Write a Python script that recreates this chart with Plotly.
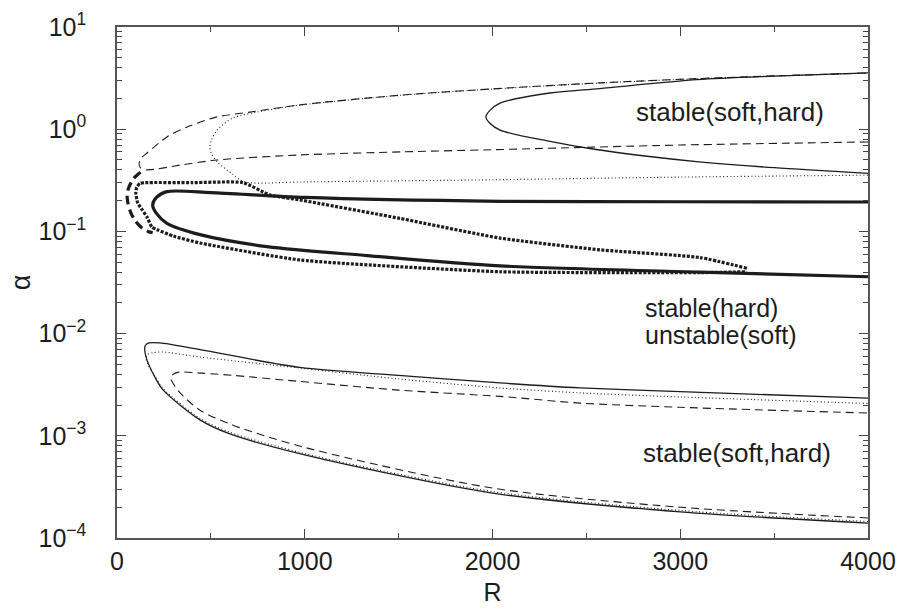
import math
import plotly.graph_objects as go

# ---------------- data ----------------
# upper group, thin curves
dash_thin_R = [4000, 3000, 2000, 1517, 975, 533, 352, 160, 124, 118, 128, 160, 266, 373, 533, 708, 975, 1517, 2000, 2572, 3175, 4000]
dash_thin_a = [0.75, 0.70, 0.63, 0.60, 0.56, 0.50, 0.45, 0.40, 0.42, 0.46, 0.52, 0.585, 0.84, 1.05, 1.32, 1.47, 1.73, 2.16, 2.48, 2.84, 3.17, 3.55]

dot_thin_R = [4000, 3000, 2000, 1000, 700, 655, 618, 533, 503, 495, 503, 533, 618, 746, 975, 1517, 2000, 2572, 3175, 4000]
dot_thin_a = [0.355, 0.34, 0.32, 0.305, 0.30, 0.32, 0.36, 0.48, 0.58, 0.67, 0.78, 0.98, 1.29, 1.47, 1.72, 2.15, 2.47, 2.83, 3.16, 3.54]

solid_thin_R = [4000, 3500, 3100, 2800, 2535, 2306, 2040, 1985, 1965, 1985, 2040, 2306, 2572, 3090, 3500, 4000]
solid_thin_a = [0.37, 0.42, 0.48, 0.55, 0.64, 0.76, 0.98, 1.15, 1.32, 1.52, 1.80, 2.26, 2.50, 3.05, 3.30, 3.55]

# middle group, thick curves
solid_thick_R = [4000, 3105, 2040, 1332, 799, 442, 266, 210, 190, 210, 266, 500, 1000, 2040, 3000, 4000]
solid_thick_a = [0.036, 0.040, 0.046, 0.058, 0.071, 0.093, 0.12, 0.15, 0.18, 0.215, 0.245, 0.24, 0.215, 0.197, 0.195, 0.194]

dot_thick_R = [3355, 3105, 2572, 2040, 1507, 975, 815, 671, 400, 150, 122, 105, 100, 110, 137, 160, 186, 213, 300, 442, 975, 2040, 3105, 3355]
dot_thick_a = [0.0436, 0.0555, 0.066, 0.086, 0.134, 0.203, 0.227, 0.30, 0.30, 0.30, 0.295, 0.27, 0.24, 0.19, 0.16, 0.138, 0.11, 0.104, 0.09, 0.077, 0.0525, 0.0403, 0.0395, 0.0403]

dash_thick_R = [125, 95, 75, 60, 54, 58, 75, 100, 135, 165, 190]
dash_thick_a = [0.38, 0.34, 0.30, 0.26, 0.225, 0.19, 0.15, 0.125, 0.107, 0.10, 0.097]

# lower group, thin curves
solid_low_R = [4000, 3000, 2000, 1000, 591, 442, 245, 200, 160, 148, 150, 170, 229, 442, 975, 1500, 2040, 2466, 3000, 4000]
solid_low_a = [0.00014, 0.00018, 0.000275, 0.00065, 0.00106, 0.00143, 0.00281, 0.0038, 0.0055, 0.0068, 0.0076, 0.0081, 0.0081, 0.00696, 0.00467, 0.0039, 0.00329, 0.00294, 0.0027, 0.00234]

dot_low_R = [4000, 3000, 2000, 1000, 591, 442, 245, 200, 165, 155, 160, 192, 245, 442, 975, 1500, 2040, 2466, 3000, 4000]
dot_low_a = [0.000145, 0.000186, 0.000285, 0.00067, 0.0011, 0.00148, 0.0029, 0.0039, 0.0050, 0.0057, 0.0062, 0.0065, 0.0066, 0.0059, 0.0046, 0.0036, 0.00294, 0.00263, 0.0024, 0.00207]

dash_low_R = [4000, 3000, 2000, 1000, 618, 442, 330, 293, 285, 300, 330, 450, 618, 975, 1500, 2040, 2466, 3000, 4000]
dash_low_a = [0.000157, 0.0002, 0.000308, 0.00077, 0.00127, 0.00178, 0.0027, 0.0034, 0.0037, 0.0040, 0.0042, 0.0041, 0.0039, 0.0034, 0.0028, 0.00243, 0.00209, 0.0019, 0.00167]

# labels
x_ticks = [0, 1000, 2000, 3000, 4000]
y_ticks = [1e-4, 1e-3, 1e-2, 1e-1, 1e0, 1e1]
y_ticktext = ["10<sup>−4</sup>", "10<sup>−3</sup>", "10<sup>−2</sup>", "10<sup>−1</sup>", "10<sup>0</sup>", "10<sup>1</sup>"]
region_labels = ["stable(soft,hard)", "stable(hard)", "unstable(soft)", "stable(soft,hard)"]
region_R = [3265, 2800, 2800, 3300]
region_a = [1.47, 0.0178, 0.0097, 0.00068]
region_anchor = ["center", "left", "left", "center"]
region_size = [26, 25, 25, 26]

# ---------------- figure ----------------
INK = "#1c1c1c"
FONT = "Liberation Sans, Arial, Helvetica, sans-serif"

curves = [
    (dash_thin_R, dash_thin_a, 1.1, "8px,5px", 0.8),
    (dot_thin_R, dot_thin_a, 1.1, "1px,2.5px", 0.8),
    (solid_thin_R, solid_thin_a, 1.3, "solid", 0.8),
    (solid_thick_R, solid_thick_a, 3.2, "solid", 0.8),
    (dot_thick_R, dot_thick_a, 3.2, "3px,1.5px", 0.5),
    (dash_thick_R, dash_thick_a, 3.2, "9px,5px", 0.8),
    (solid_low_R, solid_low_a, 1.3, "solid", 0.8),
    (dot_low_R, dot_low_a, 1.1, "1px,2.5px", 0.8),
    (dash_low_R, dash_low_a, 1.1, "8px,5px", 0.8),
]

fig = go.Figure()
for R, a, w, d, s in curves:
    fig.add_trace(go.Scatter(x=R, y=a, mode="lines",
                             line=dict(color=INK, width=w, dash=d, shape="spline", smoothing=s),
                             showlegend=False, hoverinfo="skip"))

for txt, xr, ya, anc, fs in zip(region_labels, region_R, region_a, region_anchor, region_size):
    fig.add_annotation(x=xr, y=math.log10(ya), xref="x", yref="y", yanchor="middle",
                       text=txt, showarrow=False, xanchor=anc,
                       font=dict(family=FONT, size=fs, color=INK))

minor_y = [m * 10 ** e for e in range(-4, 1) for m in range(2, 10)]

fig.update_layout(
    width=899, height=610,
    margin=dict(l=117, r=31, t=27, b=72, autoexpand=False),
    paper_bgcolor="white", plot_bgcolor="white",
    font=dict(family=FONT, size=25, color=INK),
)
fig.update_xaxes(
    range=[0, 4000], tickvals=x_ticks, ticks="inside", ticklen=9, tickwidth=1.2,
    tickcolor="#444", showline=True, linecolor="#555", linewidth=1.5, mirror="allticks",
    showgrid=False, zeroline=False, automargin=False,
    minor=dict(tickvals=[500, 1500, 2500, 3500], ticks="inside", ticklen=5, tickcolor="#444"),
    title=dict(text="R", font=dict(size=25), standoff=10),
    tickfont=dict(size=25),
)
fig.update_yaxes(
    type="log", range=[-4, 1], tickvals=y_ticks, ticktext=y_ticktext,
    ticks="inside", ticklen=9, tickwidth=1.2, tickcolor="#444",
    showline=True, linecolor="#555", linewidth=1.5, mirror="allticks",
    showgrid=False, zeroline=False, automargin=False,
    minor=dict(tickvals=minor_y, ticks="inside", ticklen=5, tickcolor="#444"),
    title=dict(text="α", font=dict(size=27), standoff=0),
    tickfont=dict(size=25),
    ticklabelstandoff=24,
)

fig.write_html("out.html",
               config={"displayModeBar": False},
               post_script="document.body.style.margin='0';document.body.style.overflow='hidden';")
